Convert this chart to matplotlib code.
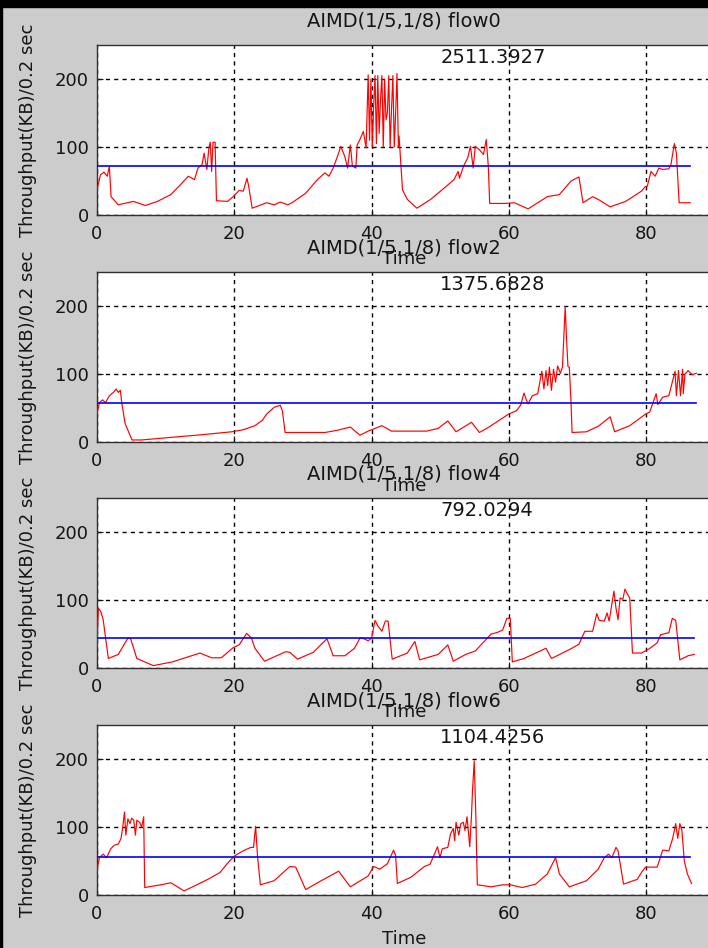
import matplotlib
matplotlib.use('Agg')
import matplotlib.pyplot as plt
from matplotlib.patches import Rectangle

# flow0
t0 = [0, 0.5, 1.0, 1.5, 1.8, 2.05, 3.1, 5.3, 7.05, 8.8, 10.75, 12.2, 13.3, 14.2, 14.7, 15.3,
      15.6, 16.0, 16.3, 16.5, 16.7, 16.9, 17.2, 17.3, 17.4, 19.0, 19.85, 20.7, 21.3, 21.85, 22.1,
      22.6, 24.7, 25.8, 26.7, 27.8, 28.4, 30.4, 32.1, 33.2, 33.8, 34.4, 35.2, 35.5, 36.1, 36.5,
      36.9, 37.2, 37.7, 37.9, 38.3, 38.8, 39.2, 39.5, 39.7, 39.9, 40.1, 40.3, 40.5, 40.7, 40.9,
      41.1, 41.3, 41.5, 41.7, 41.9, 42.1, 42.3, 42.5, 42.7, 42.9, 43.1, 43.3, 43.5, 43.7, 43.9,
      44.0, 44.5, 45.2, 46.6, 48.6, 50.85, 52.0, 52.6, 52.8, 53.4, 54.0, 54.4, 54.8, 55.1, 55.7,
      56.3, 56.7, 57.0, 57.2, 59.4, 60.8, 62.8, 65.6, 67.35, 69.05, 70.2, 70.8, 72.2, 73.0, 74.75,
      77.0, 79.3, 79.9, 80.15, 80.7, 81.3, 81.85, 82.4, 83.3, 83.6, 84.1, 84.4, 84.8, 86.4]
v0 = [37, 59, 63, 57, 72, 27, 15, 20, 14, 20, 30, 45, 57, 52, 69, 74,
      91, 67, 99, 107, 64, 107, 107, 64, 21, 20, 27, 36, 35, 54, 42,
      10, 18, 15, 19, 15, 18, 32, 52, 62, 57, 69, 91, 101, 86, 69,
      103, 72, 69, 103, 111, 123, 99, 206, 110, 200, 100, 160, 205, 105, 205,
      120, 170, 205, 100, 200, 140, 150, 205, 100, 155, 205, 100, 150, 208, 100,
      116, 37, 23, 10, 23, 42, 52, 64, 54, 72, 84, 101, 69, 101, 96,
      89, 111, 72, 17, 17, 18, 9, 27, 30, 50, 56, 18, 27, 23, 12,
      20, 35, 42, 42, 64, 57, 69, 67, 68, 74, 105, 91, 18, 18]

# flow2
t2 = [0, 0.35, 0.8, 1.25, 1.8, 2.4, 2.8, 3.1, 3.4, 3.6, 4.1, 5.1, 6.5, 11.0, 15.6, 19.6, 21.3,
      23.0, 24.1, 24.7, 25.8, 26.7, 27.0, 27.4, 33.2, 34.9, 36.9, 38.3, 39.5, 41.5, 42.9, 48.0,
      49.7, 51.1, 52.3, 54.55, 55.7, 57.1, 59.95, 61.1, 61.7, 62.2, 62.5, 62.8, 63.4, 64.2, 64.5,
      64.8, 65.1, 65.4, 65.65, 65.9, 66.2, 66.5, 66.8, 67.1, 67.5, 67.8, 68.0, 68.2, 68.4, 68.6,
      68.8, 69.05, 69.2, 71.3, 73.0, 74.75, 75.4, 77.6, 79.9, 80.5, 81.0, 81.45, 81.7, 82.4, 83.3,
      83.55, 83.8, 84.2, 84.4, 84.7, 85.0, 85.3, 85.4, 85.65, 86.1, 86.7, 87.3]
v2 = [41, 58, 62, 58, 68, 73, 78, 73, 76, 58, 27, 3, 3, 7, 11, 15, 18,
      24, 32, 41, 51, 54, 46, 14, 14, 17, 22, 10, 16, 24, 16, 16,
      20, 31, 15, 29, 14, 22, 41, 46, 54, 72, 63, 56, 68, 71, 88,
      104, 78, 105, 83, 110, 76, 107, 88, 112, 101, 110, 154, 199, 151, 111,
      110, 58, 14, 15, 23, 37, 15, 24, 41, 44, 58, 71, 55, 66, 68,
      78, 88, 104, 68, 105, 68, 107, 71, 100, 105, 99, 101]

# flow4
t4 = [0, 0.2, 0.55, 0.9, 1.65, 3.1, 4.5, 4.9, 5.8, 8.2, 11.0, 15.0, 16.7, 18.1, 19.85, 20.7,
      21.8, 22.5, 23.0, 24.4, 27.5, 28.1, 29.2, 31.5, 33.5, 34.4, 36.1, 37.5, 38.3, 38.9, 39.5,
      40.0, 40.5, 40.9, 41.5, 42.0, 42.4, 43.0, 45.2, 46.3, 47.0, 49.7, 51.1, 51.9, 53.7, 55.1,
      56.5, 57.4, 58.25, 59.1, 59.7, 60.2, 60.5, 62.2, 65.4, 66.2, 68.8, 70.2, 71.05, 72.2, 72.8,
      73.15, 73.9, 74.3, 74.6, 75.0, 75.3, 75.6, 75.9, 76.2, 76.6, 76.9, 77.3, 77.6, 78.0, 79.3,
      80.4, 81.6, 82.1, 83.3, 83.8, 84.3, 84.9, 86.1, 87.0]
v4 = [32, 88, 83, 71, 14, 20, 44, 43, 14, 3.5, 9, 22, 15, 15, 30, 34,
      51, 44, 29, 10, 24, 23, 13, 23, 43, 18, 18, 29, 44, 43, 40,
      44, 70, 62, 54, 69, 69, 13, 22, 39, 12, 20, 34, 10, 20, 25,
      40, 50, 52, 56, 73, 73, 9, 14, 29, 14, 27, 35, 54, 54, 80,
      70, 69, 81, 69, 94, 113, 88, 71, 103, 101, 116, 108, 103, 22, 22,
      28, 37, 49, 52, 73, 70, 12, 18, 20]

# flow6
t6 = [0, 0.35, 0.9, 1.4, 2.0, 2.5, 3.1, 3.5, 3.75, 4.0, 4.2, 4.5, 4.8, 5.05, 5.35, 5.6, 5.8,
      6.2, 6.5, 6.8, 6.95, 9.3, 10.75, 12.7, 16.15, 17.9, 19.3, 20.1, 21.3, 22.4, 22.8, 23.1,
      23.4, 23.8, 25.8, 28.1, 28.95, 30.4, 32.65, 35.2, 36.9, 39.5, 40.3, 41.2, 42.3, 43.2, 43.5,
      43.75, 45.7, 47.7, 48.5, 49.15, 49.6, 49.95, 50.3, 51.1, 51.5, 51.9, 52.1, 52.3, 52.7, 53.0,
      53.35, 53.6, 53.9, 54.3, 54.55, 54.7, 54.95, 55.2, 55.4, 57.4, 59.1, 60.2, 61.95, 63.9, 65.6,
      66.8, 67.35, 68.8, 71.3, 73.0, 73.9, 74.5, 75.0, 75.6, 75.9, 76.7, 78.7, 79.3, 79.9, 81.6,
      82.4, 83.3, 83.85, 84.3, 84.6, 84.9, 85.2, 85.55, 86.0, 86.6]
v6 = [36, 55, 60, 55, 68, 73, 75, 83, 100, 122, 88, 112, 105, 113, 110, 88, 110,
      107, 100, 115, 11, 15, 18, 6, 23, 33, 50, 58, 65, 70, 70, 101,
      55, 15, 21, 42, 41, 8, 21, 35, 12, 28, 42, 38, 46, 66, 58,
      17, 26, 42, 45, 60, 71, 55, 68, 70, 90, 98, 80, 107, 88, 105,
      107, 95, 115, 71, 117, 154, 197, 110, 15, 12, 15, 15, 11, 16, 31,
      55, 31, 12, 21, 38, 55, 60, 55, 70, 65, 16, 23, 33, 41, 41,
      66, 65, 83, 105, 83, 105, 95, 50, 31, 17]

titles = ['AIMD(1/5,1/8) flow0', 'AIMD(1/5,1/8) flow2', 'AIMD(1/5,1/8) flow4', 'AIMD(1/5,1/8) flow6']
totals = ['2511.3927', '1375.6828', '792.0294', '1104.4256']
means = [72.5, 57, 44.5, 56.3]
mean_end = [86.4, 87.3, 87.0, 86.4]
series = [(t0, v0), (t2, v2), (t4, v4), (t6, v6)]

fam = ['DejaVu Sans']
txt_col = '#151515'
W, H = 708, 948
fig = plt.figure(figsize=(W / 100, H / 100), dpi=100, facecolor='#cccccc')
# black strips at the top and left edge
fig.patches.append(Rectangle((0, 1 - 7 / H), 1, 7 / H, transform=fig.transFigure, color='black', zorder=0))
fig.patches.append(Rectangle((0, 0), 2 / W, 1, transform=fig.transFigure, color='black', zorder=0))

tops = [45, 272, 498, 725]
ax_h = 170
px_per_unit = 6.865
xmax = 89.5
for i in range(4):
    bottom = tops[i] + ax_h
    ax = fig.add_axes([97 / W, 1 - bottom / H, xmax * px_per_unit / W, ax_h / H])
    ax.set_facecolor('white')
    t, v = series[i]
    ax.plot(t, v, color='red', lw=0.85, zorder=3)
    ax.plot([0, mean_end[i]], [means[i], means[i]], color='blue', lw=1.2, zorder=4)
    ax.set_xlim(0, xmax)
    ax.set_ylim(0, 250)
    ax.set_xticks([0, 20, 40, 60, 80])
    ax.set_yticks([0, 100, 200])
    ax.grid(True, color='black', linestyle=(0, (3, 3)), lw=1.0)
    ax.set_axisbelow(True)
    ax.tick_params(direction='in', length=4, labelsize=13, colors=txt_col, pad=7)
    ax.tick_params(axis='y', pad=6)
    for s in ax.spines.values():
        s.set_color('#303030')
        s.set_linewidth(1.0)
    ax.spines['right'].set_visible(False)
    for lab in ax.get_xticklabels() + ax.get_yticklabels():
        lab.set_family(fam)
    ax.set_title(titles[i], fontsize=14, family=fam, y=1 + 24 / ax_h, pad=0, va='center', color=txt_col)
    ax.text(50, 231, totals[i], fontsize=14, family=fam, ha='left', va='center', color=txt_col)
    ax.set_xlabel('Time', fontsize=13, family=fam, va='center', color=txt_col)
    ax.xaxis.set_label_coords(0.5, -44 / ax_h)
    ax.set_ylabel('Throughput(KB)/0.2 sec', fontsize=13, family=fam, va='center', color=txt_col)
    ax.yaxis.set_label_coords(-69 / (xmax * px_per_unit), 0.5)

fig.savefig('out.png', dpi=100, facecolor=fig.get_facecolor())
